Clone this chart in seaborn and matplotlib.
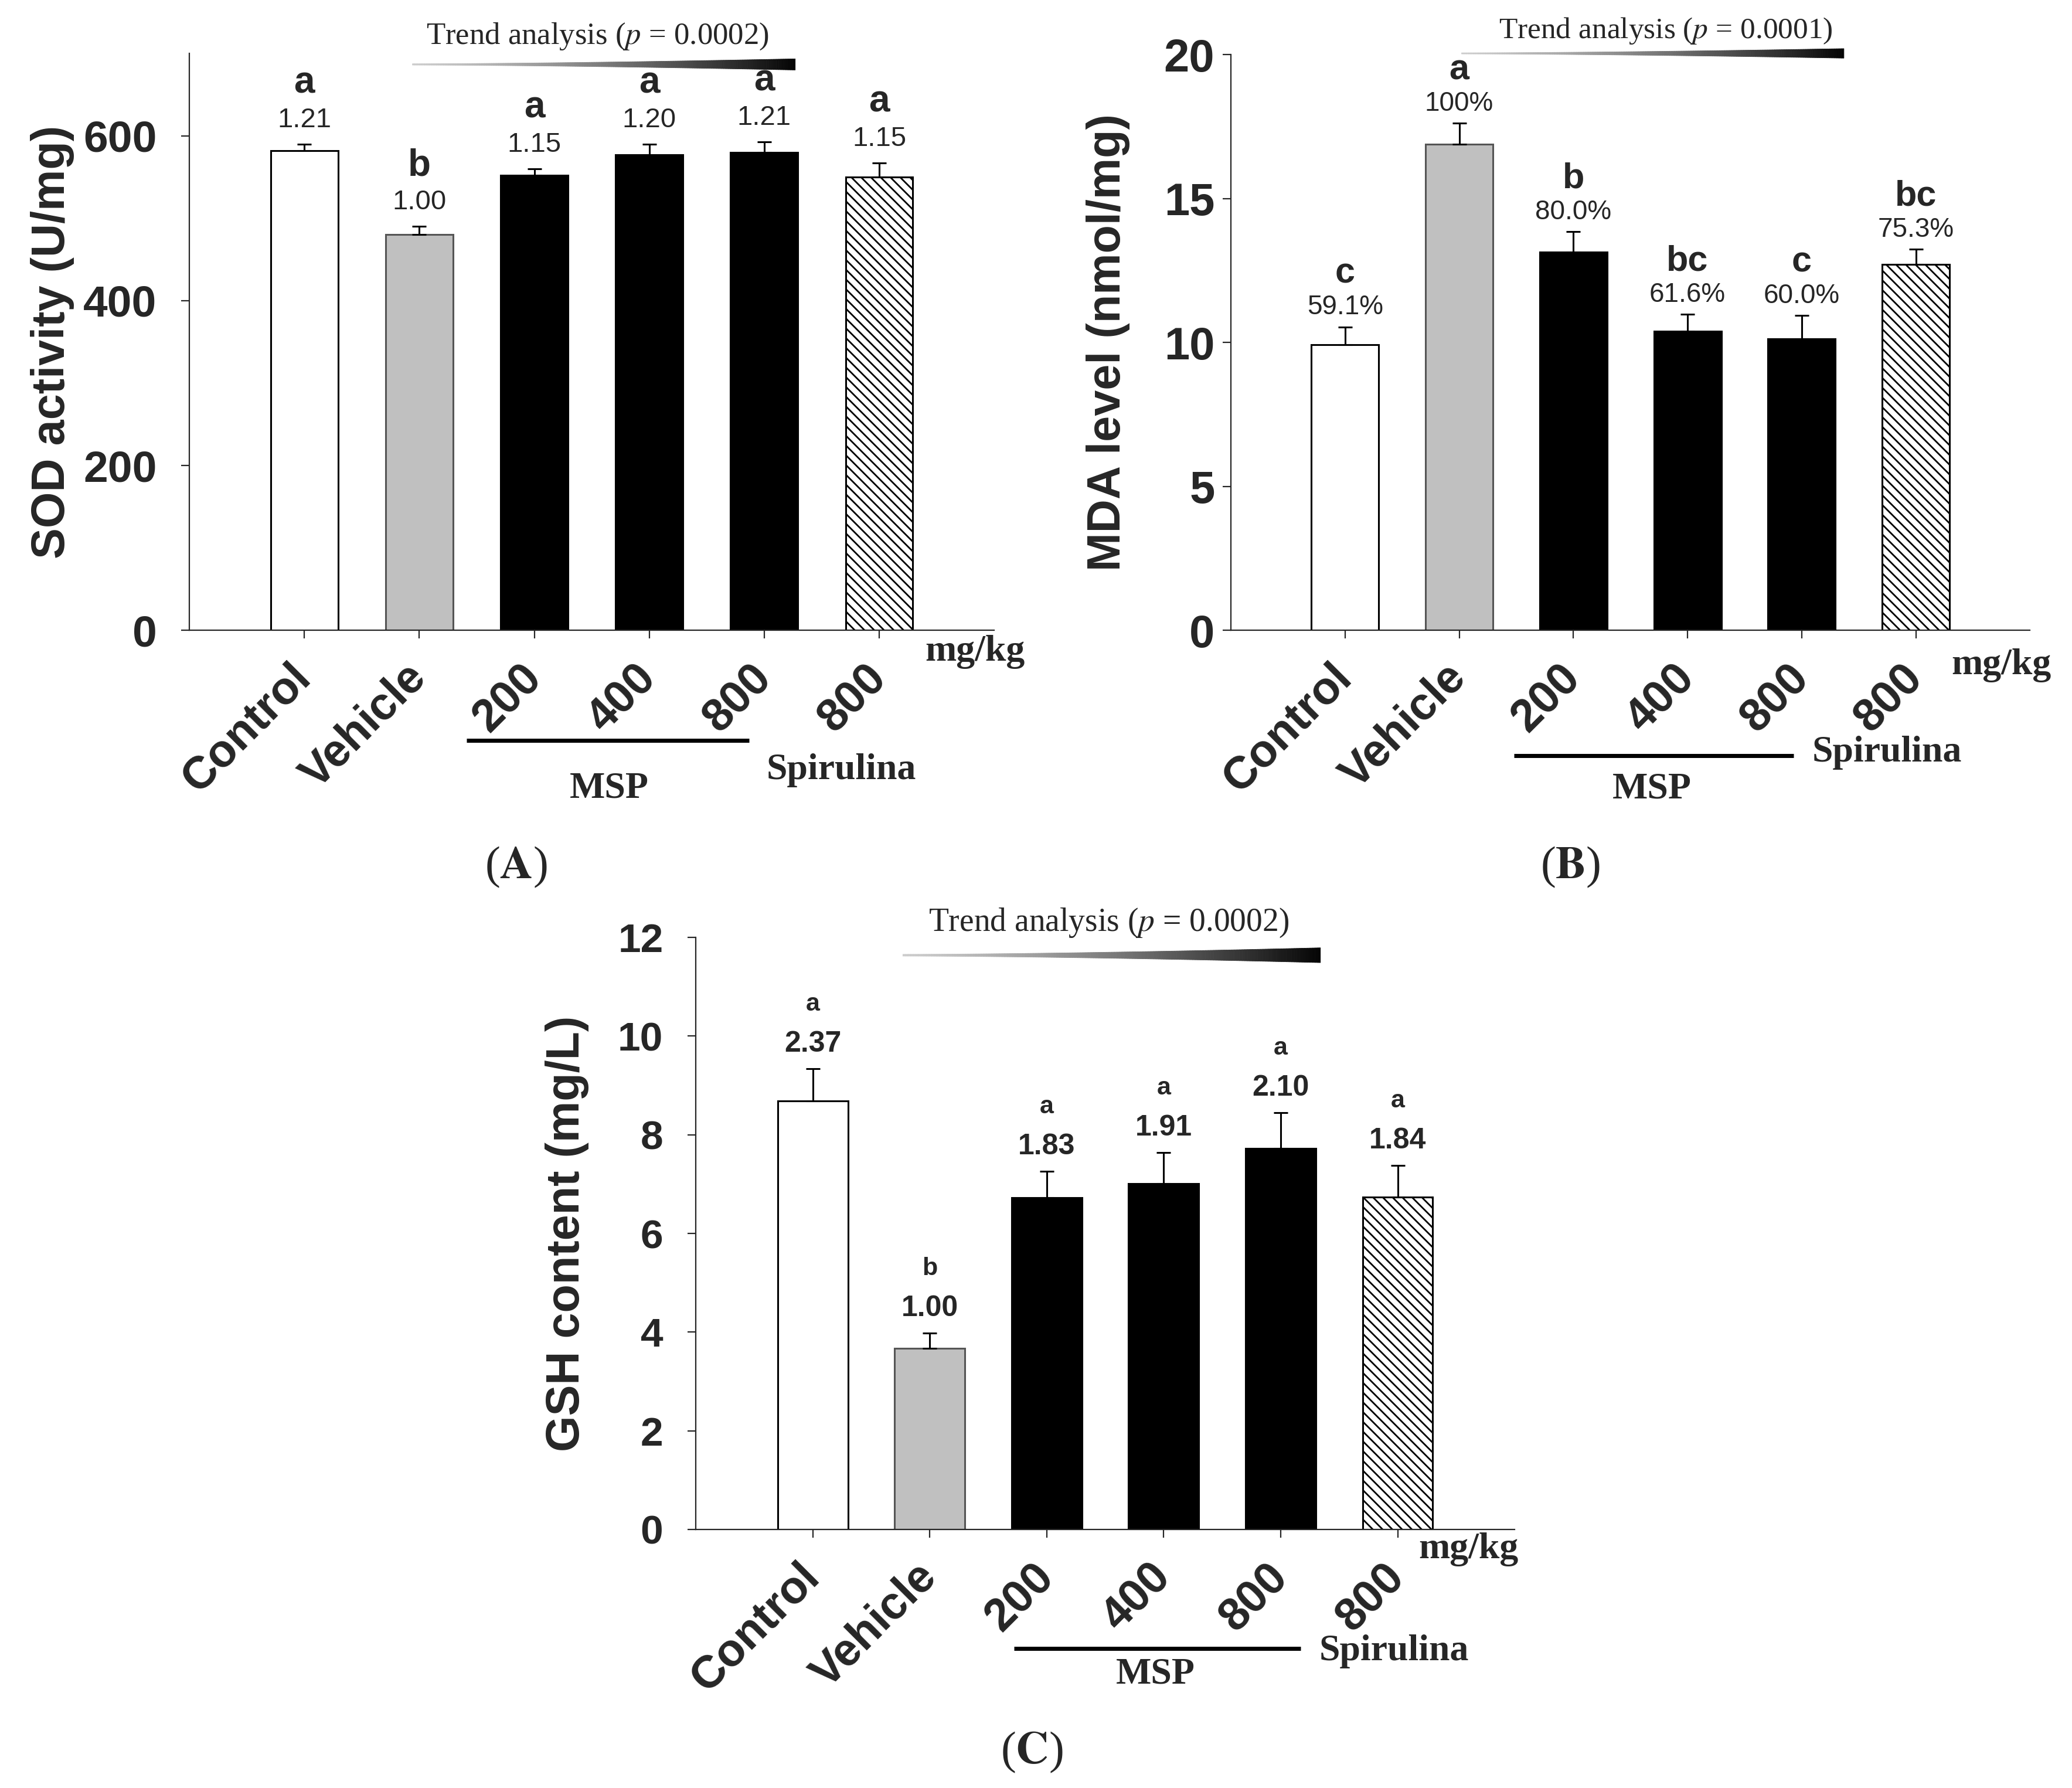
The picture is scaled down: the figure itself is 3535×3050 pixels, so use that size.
import numpy as np
import pandas as pd
import seaborn as sns
import matplotlib.pyplot as plt
from matplotlib.patches import Polygon
from matplotlib.transforms import blended_transform_factory

# groups shown on the x axis
groups = ['Control', 'Vehicle', 'MSP 200', 'MSP 400', 'MSP 800', 'Spirulina 800']
tick_labels = ['Control', 'Vehicle', '200', '400', '800', '800']
bar_colors = ['white', '#c0c0c0', 'black', 'black', 'black', 'white']

# (A) SOD activity
sod_mean = [582, 480, 552, 577, 580, 550]
sod_err = [8, 10, 8, 13, 13, 17]
sod_ratio = ['1.21', '1.00', '1.15', '1.20', '1.21', '1.15']
sod_letter = ['a', 'b', 'a', 'a', 'a', 'a']

# (B) MDA level
mda_mean = [9.93, 16.88, 13.13, 10.38, 10.13, 12.72]
mda_err = [0.61, 0.74, 0.72, 0.59, 0.80, 0.51]
mda_pct = ['59.1%', '100%', '80.0%', '61.6%', '60.0%', '75.3%']
mda_letter = ['c', 'a', 'b', 'bc', 'c', 'bc']

# (C) GSH content
gsh_mean = [8.69, 3.67, 6.72, 7.01, 7.72, 6.74]
gsh_err = [0.65, 0.31, 0.54, 0.63, 0.73, 0.64]
gsh_ratio = ['2.37', '1.00', '1.83', '1.91', '2.10', '1.84']
gsh_letter = ['a', 'b', 'a', 'a', 'a', 'a']

sns.set_style('ticks')
plt.rcParams['font.family'] = ['Liberation Sans', 'DejaVu Sans']
plt.rcParams['hatch.linewidth'] = 2.0
plt.rcParams['axes.linewidth'] = 1.6

SERIF = ['Liberation Serif', 'DejaVu Serif']

fig = plt.figure(figsize=(35.35, 30.5), dpi=100)


def trend_bar(ax, x0, x1, yc, h, label, xt, yt, size):
    # grey-to-black wedge above the MSP bars
    tr = blended_transform_factory(ax.transData, ax.transAxes)
    n = 160
    xs = np.linspace(x0, x1, n + 1)
    h0 = h * 0.12
    for i in range(n):
        f0, f1 = i / n, (i + 1) / n
        t0 = (h0 + (h - h0) * f0 ** 1.6) / 2
        t1 = (h0 + (h - h0) * f1 ** 1.6) / 2
        g = 0.80 - 0.78 * f1 ** 1.3
        c = (g, g, g)
        ax.add_patch(Polygon([(xs[i], yc - t0), (xs[i + 1], yc - t1),
                              (xs[i + 1], yc + t1), (xs[i], yc + t0)],
                             closed=True, facecolor=c, edgecolor=c, lw=0.6,
                             transform=tr, clip_on=False))
    ax.text(xt, yt, label, transform=tr, ha='center', va='center',
            fontsize=size, family=SERIF, math_fontfamily='stix')


def under_labels(ax, mg_x, mg_y, line_x0, line_x1, line_y, msp_x, msp_y, sp_x, sp_y):
    tr = blended_transform_factory(ax.transData, ax.transAxes)
    ax.text(mg_x, mg_y, 'mg/kg', transform=tr, ha='left', va='center',
            fontsize=46, fontweight='bold', family=SERIF, clip_on=False)
    ax.plot([line_x0, line_x1], [line_y, line_y], color='black', lw=5,
            transform=tr, clip_on=False, solid_capstyle='butt')
    ax.text(msp_x, msp_y, 'MSP', transform=tr, ha='center', va='center',
            fontsize=46, fontweight='bold', family=SERIF, clip_on=False)
    ax.text(sp_x, sp_y, 'Spirulina', transform=tr, ha='left', va='center',
            fontsize=46, fontweight='bold', family=SERIF, clip_on=False)


def panel(rect, means, errs, nums, letters, ymax, yticks, ylabel, ylab_x,
          tick_size, tick_pad, num_size, num_bold, let_size, num_off, let_off,
          width):
    ax = fig.add_axes(rect)
    df = pd.DataFrame({'group': groups, 'value': means})
    sns.barplot(data=df, x='group', y='value', hue='group', order=groups,
                hue_order=groups, palette=dict(zip(groups, bar_colors)),
                width=width, edgecolor='black', linewidth=2.2, errorbar=None,
                legend=False, ax=ax)
    bars = sorted(ax.patches, key=lambda p: p.get_x())
    bars[1].set_edgecolor('#555555')
    bars[5].set_hatch('\\\\')
    ax.errorbar(range(len(groups)), means, yerr=[np.zeros(len(errs)), errs],
                fmt='none', ecolor='black', elinewidth=2.2, capsize=8.5,
                capthick=2.2, zorder=1)
    ax.set_xlim(-1, 6)
    ax.set_ylim(0, ymax)
    ax.set_yticks(yticks)
    ax.set_yticklabels([str(t) for t in yticks], fontsize=tick_size,
                       fontweight='bold')
    ax.set_xticks(range(len(groups)))
    ax.set_xticklabels(tick_labels, rotation=45, ha='right', va='center',
                       rotation_mode='anchor', fontsize=56, fontweight='bold')
    ax.tick_params(axis='y', direction='out', length=10, width=1.6,
                   pad=tick_pad)
    ax.tick_params(axis='x', direction='out', length=10, width=1.6, pad=40)
    ax.set_xlabel('')
    ax.set_ylabel(ylabel, fontsize=57, fontweight='bold')
    ax.yaxis.set_label_coords(ylab_x, 0.5)
    sns.despine(ax=ax)
    for i in range(len(groups)):
        top = means[i] + errs[i]
        ax.annotate(nums[i], (i, top), xytext=(0, num_off),
                    textcoords='offset points', ha='center', va='center',
                    fontsize=num_size,
                    fontweight='bold' if num_bold else 'normal')
        ax.annotate(letters[i], (i, top), xytext=(0, let_off),
                    textcoords='offset points', ha='center', va='center',
                    fontsize=let_size, fontweight='bold')
    return ax


# (A)
ax_a = panel([0.0914, 0.6475, 0.3884, 0.3226], sod_mean, sod_err, sod_ratio,
             sod_letter, 700, [0, 200, 400, 600], 'SOD activity (U/mg)', -0.143,
             54, 30, 34, False, 46, 29.5, 75, 0.585)
trend_bar(ax_a, 0.94, 4.27, 0.981, 0.0193,
          r'Trend analysis ($p$ = 0.0002)', 2.55, 1.029, 38)
under_labels(ax_a, 5.40, -0.037, 1.41, 3.87, -0.191, 2.65, -0.275, 4.02, -0.243)

# (B)
ax_b = panel([0.5941, 0.6475, 0.3856, 0.3220], mda_mean, mda_err, mda_pct,
             mda_letter, 20, [0, 5, 10, 15, 20], 'MDA level (nmol/mg)', -0.126,
             56, 10, 33, False, 44, 24, 65, 0.59)
trend_bar(ax_b, 1.02, 4.37, 1.002, 0.0165,
          r'Trend analysis ($p$ = 0.0001)', 2.81, 1.041, 37)
under_labels(ax_b, 5.31, -0.061, 1.48, 3.93, -0.218, 2.69, -0.276, 4.09, -0.213)

# (C)
ax_c = panel([0.3358, 0.1446, 0.3952, 0.3311], gsh_mean, gsh_err, gsh_ratio,
             gsh_letter, 12, [0, 2, 4, 6, 8, 10, 12], 'GSH content (mg/L)', -0.130,
             50, 30, 36, True, 31, 30, 79, 0.60)
trend_bar(ax_c, 0.77, 4.34, 0.970, 0.025,
          r'Trend analysis ($p$ = 0.0002)', 2.53, 1.025, 40)
under_labels(ax_c, 5.18, -0.034, 1.72, 4.17, -0.201, 2.93, -0.245, 4.33, -0.206)

for x, y, s in [(0.249, 0.515, 'A'), (0.758, 0.515, 'B'), (0.498, 0.020, 'C')]:
    fig.text(x, y, '(' + r'$\mathbf{' + s + '}$' + ')', ha='center', va='center',
             fontsize=56, family=SERIF, math_fontfamily='stix')

fig.savefig('out.png', dpi=100)
